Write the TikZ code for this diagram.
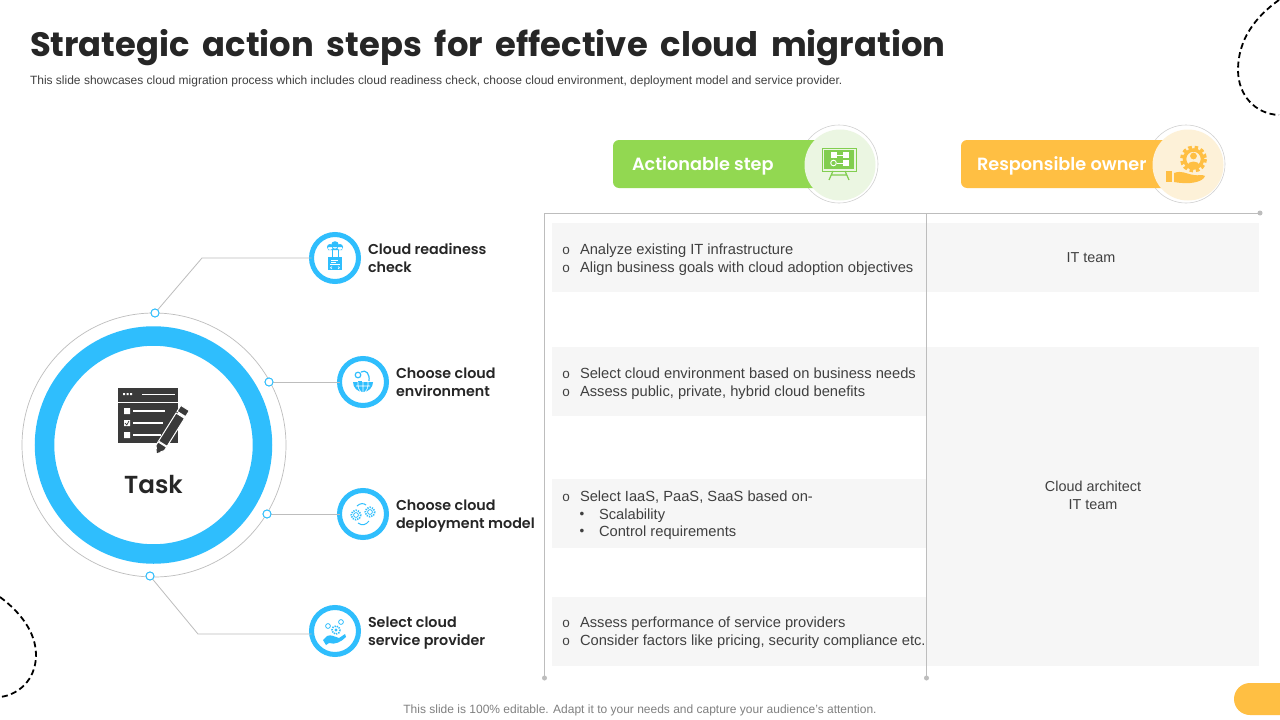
\documentclass[tikz,border=0pt]{standalone}
\usepackage{fontspec}
\setmainfont{Liberation Sans}
\newfontfamily\pop{Poppins SemiBold}
\newfontfamily\popb{Poppins}
\usetikzlibrary{calc}
\definecolor{skyb}{HTML}{2FBEFD}
\definecolor{grn}{HTML}{92D851}
\definecolor{grnd}{HTML}{82CE50}
\definecolor{grnp}{HTML}{EBF6E2}
\definecolor{org}{HTML}{FFBF43}
\definecolor{orgp}{HTML}{FDF1D8}
\definecolor{rowg}{HTML}{F6F6F6}
\definecolor{lineg}{HTML}{BDBDBD}
\definecolor{ink}{HTML}{262626}
\definecolor{body}{HTML}{404040}
\definecolor{dark}{HTML}{3A3A3A}
\tikzset{
 x=1pt,y=-1pt,
 every node/.style={inner sep=0pt,outer sep=0pt},
 dotn/.style={circle,draw=skyb,fill=white,line width=0.9pt,minimum size=8pt},
 linkl/.style={draw=lineg,line width=0.8pt},
 ringn/.style={circle,draw=skyb,fill=white,line width=5pt,minimum size=47pt},
 steplabel/.style={anchor=west,align=left,text=ink,font=\pop\fontsize{14.3}{18}\selectfont},
 bodytext/.style={anchor=west,align=left,text=body,font=\fontsize{14.7}{18}\selectfont},
 ownertext/.style={anchor=center,align=center,text=body,font=\fontsize{14.4}{18}\selectfont},
 bullet/.style={anchor=center,text=body,font=\fontsize{13.5}{18}\selectfont},
 rown/.style={fill=rowg,draw=none,anchor=north west},
 tabl/.style={draw=lineg,line width=0.8pt},
 enddot/.style={circle,fill=lineg,minimum size=5pt},
 pilltext/.style={anchor=west,text=white,font=\pop\fontsize{17.7}{22}\selectfont},
 dashc/.style={draw=black,line width=1.8pt,dash pattern=on 6pt off 3.5pt},
 gearp/.style={draw=skyb,line width=1.6pt,dash pattern=on 1.3pt off 1.1pt},
}
\begin{document}
\begin{tikzpicture}
\useasboundingbox (0,0) rectangle (1280,720);
\fill[white] (0,0) rectangle (1280,720);
% corners
\draw[dashc] (1279,0) .. controls (1255,17) and (1238,40) .. (1238,70) .. controls (1238,95) and (1255,114) .. (1279,115);
\draw[dashc] (0,597) .. controls (20,612) and (36,632) .. (36,655) .. controls (36,680) and (18,695) .. (0,697);
% title
\node[anchor=west,text=ink,font=\popb\bfseries\fontsize{33.8}{40}\selectfont] (title) at (30,47.5) {\spaceskip=12.8pt Strategic action steps for effective cloud migration};
\node[anchor=west,text=body,font=\fontsize{12}{14}\selectfont] (sub) at (30,81.5) {This slide showcases cloud migration process which includes cloud readiness check, choose cloud environment, deployment model and service provider.};
% rows
\node[rown,minimum width=374pt,minimum height=69pt] (r1) at (552,223) {};
\node[rown,minimum width=374pt,minimum height=69pt] (r2) at (552,347) {};
\node[rown,minimum width=374pt,minimum height=69pt] (r3) at (552,479) {};
\node[rown,minimum width=374pt,minimum height=69pt] (r4) at (552,597) {};
\node[rown,minimum width=332pt,minimum height=69pt] (o1) at (927,223) {};
\node[rown,minimum width=332pt,minimum height=319pt] (o2) at (927,347) {};
% table lines
\coordinate (tl) at (544.5,213);
\coordinate (tm) at (926.5,213);
\node[enddot] (tr) at (1260,213) {};
\node[enddot] (bl) at (544.5,678) {};
\node[enddot] (bm) at (926.5,678) {};
\draw[tabl] (tl) -- (tr);
\draw[tabl] (tl) -- (bl);
\draw[tabl] (tm) -- (bm);
% row text
\node[bullet] (b1a) at (566,251) {o};
\node[bullet] (b1b) at (566,269) {o};
\node[bodytext] (t1) at (580,260) {Analyze existing IT infrastructure\\Align business goals with cloud adoption objectives};
\node[bullet] (b2a) at (566,375) {o};
\node[bullet] (b2b) at (566,393) {o};
\node[bodytext] (t2) at (580,384) {Select cloud environment based on business needs\\Assess public, private, hybrid cloud benefits};
\node[bullet] (b3a) at (566,498) {o};
\node[bodytext] (t3a) at (580,497) {Select IaaS, PaaS, SaaS based on-};
\node[bullet] (b3b) at (582,515) {•};
\node[bodytext] (t3b) at (599,516) {Scalability};
\node[bullet] (b3c) at (582,532) {•};
\node[bodytext] (t3c) at (599,533) {Control requirements};
\node[bullet] (b4a) at (566,624) {o};
\node[bullet] (b4b) at (566,642) {o};
\node[bodytext] (t4) at (580,633) {Assess performance of service providers\\Consider factors like pricing, security compliance etc.};
\node[ownertext] (w1) at (1091,257.5) {IT team};
\node[ownertext] (w2) at (1093,495) {Cloud architect\\IT team};
% pills
\draw[fill=none,draw=lineg!70,line width=0.6pt] (839,164) circle (39);
\fill[grn,rounded corners=6pt] (613,140) rectangle (830,188);
\node[circle,fill=grnp,minimum size=71pt] (gc) at (840,165) {};
\node[pilltext] (pg) at (632,166) {Actionable step};
\draw[fill=none,draw=lineg!70,line width=0.6pt] (1186,164) circle (39);
\fill[org,rounded corners=6pt] (961,140) rectangle (1175,188);
\node[circle,fill=orgp,minimum size=71pt] (oc) at (1188,165) {};
\node[pilltext] (po) at (977,166) {Responsible owner};
% green board icon
\draw[grnd,line width=1pt] (822,148) rectangle (856,171);
\fill[grnd] (824,150) rectangle (854,169);
\fill[white] (831,152) rectangle (837,158);
\fill[white] (843,152) rectangle (849,158);
\draw[white,line width=0.9pt] (837,155) -- (843,155);
\draw[white,line width=0.9pt] (833.5,163) circle (2.8);
\fill[white] (843,160) rectangle (849,166);
\draw[white,line width=0.9pt] (836.5,163) -- (843,163);
\draw[grnd,line width=1.2pt] (833,171) -- (829,180) (845,171) -- (849,180) (831,175) -- (847,175);
% orange owner icon
\draw[org,line width=4pt,dash pattern=on 3.5pt off 2.6pt] (1193.5,159) circle (11.5);
\draw[org,line width=3.5pt,fill=orgp] (1193.5,159) circle (9);
\fill[org] (1193.5,156) circle (3.4);
\fill[org] (1187,166) .. controls (1188,160) and (1199,160) .. (1200,166) -- cycle;
\fill[org] (1166,171) rectangle (1172,182);
\fill[org] (1174,173) .. controls (1182,170) and (1186,174) .. (1194,175) .. controls (1198,176) and (1202,174) .. (1205,176) .. controls (1203,182) and (1190,185) .. (1174,182) -- cycle;
% connectors
\coordinate (e1) at (202,258);
\coordinate (e4) at (198,634);
\node[dotn] (d1) at (155,313) {};
\node[dotn] (d2) at (269,382) {};
\node[dotn] (d3) at (267,514) {};
\node[dotn] (d4) at (150,576) {};
\node[ringn] (c1) at (335,258) {};
\node[ringn] (c2) at (363,382) {};
\node[ringn] (c3) at (363,514) {};
\node[ringn] (c4) at (335,631) {};
\draw[linkl] (d1) -- (e1) -- (c1);
\draw[linkl] (d2) -- (c2);
\draw[linkl] (d3) -- (c3);
\draw[linkl] (d4) -- (e4) -- (e4 -| c4.west);
% main circle
\draw[draw=lineg,line width=0.7pt] (154,445) circle (132);
\node[dotn] at (155,313) {};
\node[dotn] at (269,382) {};
\node[dotn] at (267,514) {};
\node[dotn] at (150,576) {};
\node[circle,draw=skyb,fill=white,line width=19.5pt,minimum size=218pt] (task) at (153.5,445) {};
\node[anchor=center,text=ink,font=\pop\fontsize{24.6}{30}\selectfont] (tasktxt) at (153.5,485) {Task};
% task icon
\fill[dark] (118,388) rectangle (178,443);
\draw[white,line width=0.9pt] (118,402) -- (178,402);
\fill[white] (123,393) rectangle (125,395) (126.5,393) rectangle (128.5,395) (130,393) rectangle (132,395);
\draw[white,line width=0.7pt] (142,394.5) -- (175,394.5);
\fill[white] (124,408) rectangle (130,414) (124,420) rectangle (130,426) (124,432) rectangle (130,438);
\draw[dark,line width=0.7pt] (125,423) -- (126.8,425) -- (129,421);
\draw[white,line width=1.3pt] (133,411) -- (165,411) (133,423) -- (163,423) (133,435) -- (161,435);
\begin{scope}[shift={(157,453)},rotate=58]
\filldraw[dark,draw=white,line width=1pt] (6,-5) -- (0,0) -- (6,5) -- (10,5) -- (10,-5) -- cycle;
\fill[dark] (0,0) -- (3,-2.5) -- (3,2.5) -- cycle;
\filldraw[dark,draw=white,line width=1pt] (11,-5) rectangle (44,5);
\filldraw[dark,draw=white,line width=1pt] (46,-5) rectangle (53,5);
\end{scope}
% step icons
% c1
\fill[skyb] (330,247) circle (3) (335,245) circle (3.8) (340,247) circle (3) (328,247) rectangle (342,250);
\draw[skyb,line width=1pt] (332,250) -- (332,258) (338,250) -- (338,258);
\fill[skyb] (328,257) rectangle (342,270);
\fill[white] (330,264) rectangle (340,265);
\draw[white,line width=0.6pt] (331,260) -- (338,260) (331,262) -- (336,262);
\draw[white,line width=0.6pt] (332,266.5) -- (330.5,267.7) -- (332,269) (338,266.5) -- (339.5,267.7) -- (338,269);
% c2
\fill[skyb] (353,382) arc[start angle=180,end angle=0,radius=10] -- cycle;
\draw[white,line width=0.6pt] (363,382) -- (363,392) (356,386) -- (370,386) (358,382) .. controls (358,388) .. (361,392) (368,382) .. controls (368,388) .. (365,392);
\draw[skyb,line width=1.2pt] (358,375) circle (2.8);
\draw[skyb,line width=1.2pt] (361,372) .. controls (366,369) and (370,374) .. (369,381);
\draw[skyb,line width=1pt] (358,381) -- (362,381);
% c3
\draw[gearp] (356,515) circle (4.8);
\draw[gearp] (370,512) circle (4.8);
\draw[skyb,line width=0.8pt] (356,515) circle (2.4) (370,512) circle (2.4);
\draw[skyb,line width=1pt] (357,506) .. controls (360,503) and (364,503) .. (366,505);
\draw[skyb,line width=1pt] (358,523) .. controls (362,526) and (366,525) .. (369,521);
% c4
\draw[gearp] (336,630) circle (4);
\fill[skyb] (336,630) circle (1.6);
\draw[skyb,line width=0.8pt] (328,626) circle (2.4) (341,622) circle (2.4);
\fill[skyb] (323,640) -- (327,636) .. controls (331,634) and (335,637) .. (339,638) -- (345,634) -- (346,637) .. controls (341,642) and (335,645) .. (329,643) -- (326,645) -- cycle;
% step labels
\node[steplabel] (l1) at (368,258) {Cloud readiness\\check};
\node[steplabel] (l2) at (396,382) {Choose cloud\\environment};
\node[steplabel] (l3) at (396,516) {Choose cloud\\deployment model};
\node[steplabel] (l4) at (368,633) {Select cloud\\service provider};
% footer
\node[anchor=center,text=black!50,font=\fontsize{12}{14}\selectfont] (foot) at (640,710.5) {This slide is 100\% editable. Adapt it to your needs and capture your audience's attention.};
\fill[org] (1280,683) -- (1250,683) arc[start angle=-90,end angle=-270,radius=16] -- (1280,715) -- cycle;
\end{tikzpicture}
\end{document}
